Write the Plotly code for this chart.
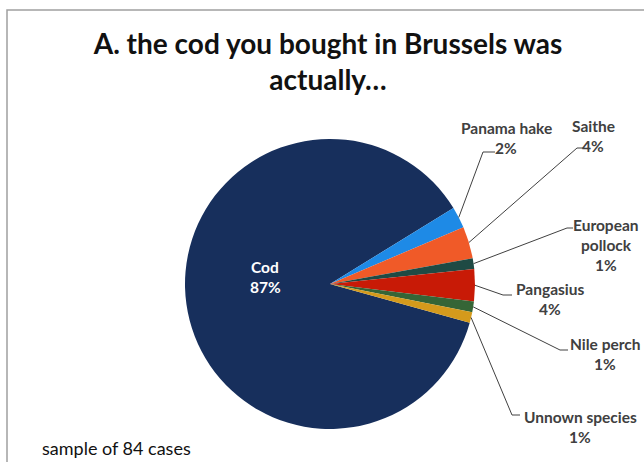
import math
import plotly.graph_objects as go

# ---- data ----
species = ["Cod", "Panama hake", "Saithe", "European pollock", "Pangasius", "Nile perch", "Unnown species"]
counts = [73, 2, 3, 1, 3, 1, 1]
label_lines = [["Cod"], ["Panama hake"], ["Saithe"], ["European", "pollock"], ["Pangasius"], ["Nile perch"], ["Unnown species"]]
colors = ["#172f5c", "#1e8ae6", "#f05a28", "#1f4a44", "#c81a06", "#356536", "#d49a1c"]

W, H = 644, 462
CX, CY, R = 330, 284, 145
ROT = 105.5  # degrees clockwise from 12 o'clock where first slice starts

# label layout (pixel positions: center x, first line y, elbow point)
lab_pos = {
    "Cod": (265, 267, None),
    "Panama hake": (506, 128, (483, 152, 495)),
    "Saithe": (593, 126, (577, 148, 583)),
    "European pollock": (606, 225, (567, 228, 573)),
    "Pangasius": (550, 289, (503, 295, 512)),
    "Nile perch": (605, 344, (560, 350, 568)),
    "Unnown species": (580, 417, (512, 415, 520)),
}

def px(x):
    return x / W

def py(y):
    return 1 - y / H

total = sum(counts)
pcts = [f"{round(c / total * 100)}%" for c in counts]

fig = go.Figure()
fig.add_trace(go.Pie(
    labels=species, values=counts, sort=False, direction="clockwise", rotation=ROT,
    marker=dict(colors=colors, line=dict(width=0)),
    textinfo="none", hoverinfo="label+percent", showlegend=False,
    domain=dict(x=[px(CX - R), px(CX + R)], y=[py(CY + R), py(CY - R)]),
))

annotations = []
shapes = []
cum = 0
for name, c, lines, pct in zip(species, counts, label_lines, pcts):
    mid = ROT + (cum + c / 2) / total * 360
    cum += c
    lx, ly, elbow = lab_pos[name]
    col = "white" if name == "Cod" else "#404040"
    for i, t in enumerate(lines + [pct]):
        annotations.append(dict(
            x=px(lx), y=py(ly + i * 20), xref="paper", yref="paper",
            text=t, showarrow=False, xanchor="center", yanchor="middle",
            font=dict(family="Lato", size=15.5, color=col, weight="bold"),
        ))
    if elbow:
        a = math.radians(mid)
        sx = CX + R * math.sin(a)
        sy = CY - R * math.cos(a)
        ex, ey, hx = elbow
        shapes.append(dict(
            type="path", xref="paper", yref="paper",
            path=f"M {px(sx)} {py(sy)} L {px(ex)} {py(ey)} L {px(hx)} {py(ey)}",
            line=dict(color="#404040", width=1),
        ))

# chart frame
shapes.append(dict(type="rect", xref="paper", yref="paper",
                   x0=px(7), y0=py(470), x1=px(660), y1=py(10),
                   line=dict(color="#a0a0a0", width=1.5), layer="below"))

annotations.append(dict(
    x=px(40), y=py(448), xref="paper", yref="paper", text="sample of 84 cases",
    showarrow=False, xanchor="left", yanchor="middle",
    font=dict(family="Lato", size=18, color="#111111"),
))

fig.update_layout(
    width=W, height=H, margin=dict(l=0, r=0, t=0, b=0),
    paper_bgcolor="white", plot_bgcolor="white",
    title=dict(text="<b>A. the cod you bought in Brussels was<br>actually…</b>",
               x=px(328), xanchor="center", y=py(54), yanchor="middle",
               font=dict(family="Lato", size=28, color="#111111")),
    annotations=annotations, shapes=shapes,
)

fig.write_html("out.html")
